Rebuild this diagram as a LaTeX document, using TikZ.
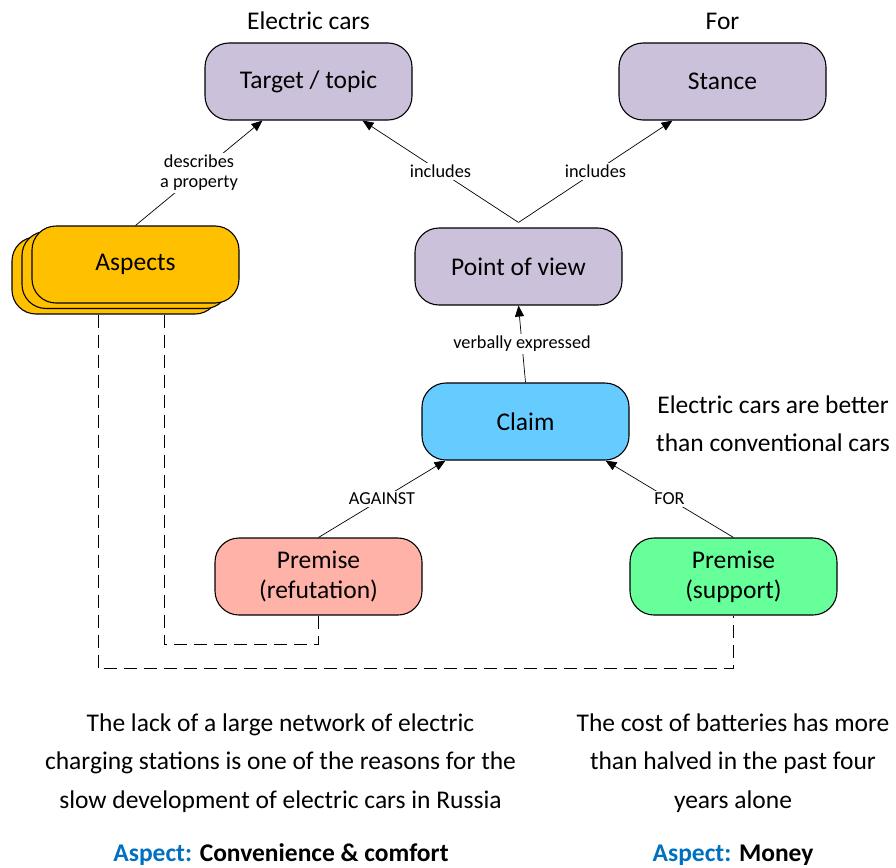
\documentclass[tikz,border=0pt]{standalone}
\usepackage{fontspec}
\setmainfont{Carlito}
\usetikzlibrary{arrows.meta,calc}

\definecolor{viewpurple}{HTML}{CCC1DA}
\definecolor{aspectgold}{HTML}{FFC000}
\definecolor{claimblue}{HTML}{66CCFF}
\definecolor{refutered}{HTML}{FFB3A8}
\definecolor{supportgreen}{HTML}{66FF99}
\definecolor{aspectlabel}{HTML}{0070C0}

\tikzset{
    conceptbox/.style={draw=black, line width=1.1pt, rounded corners=24pt,
        minimum width=207pt, minimum height=77pt, align=center,
        font=\fontsize{25.5}{30}\selectfont},
    linklabel/.style={fill=white, inner sep=2pt, align=center,
        font=\fontsize{18.3}{20}\selectfont},
    link/.style={line width=0.7pt, -{Triangle[length=11pt,width=9pt]}},
    aspectlink/.style={line width=0.9pt, dash pattern=on 13pt off 7pt},
    example/.style={align=center, font=\fontsize{25.5}{38.5}\selectfont},
}

\begin{document}
\begin{tikzpicture}[x=1pt,y=-1pt]
    \useasboundingbox (0,0) rectangle (896,867);

    % concept boxes
    \node[conceptbox, fill=viewpurple] (target) at (308.5,81.5) {Target / topic};
    \node[conceptbox, fill=viewpurple] (stance) at (722.5,81.5) {Stance};
    \node[conceptbox, fill=viewpurple] (pov) at (518.5,266.5) {Point of view};
    \node[conceptbox, fill=claimblue] (claim) at (525.5,421.5) {Claim};
    \node[conceptbox, fill=refutered] (refute) at (318.5,576.5) {Premise\\(refutation)};
    \node[conceptbox, fill=supportgreen] (support) at (733.5,576.5) {Premise\\(support)};

    % stacked aspects
    \foreach \d in {2,1} {
        \node[conceptbox, fill=aspectgold] (aspects\d) at (135.5-10*\d,264.5+5.5*\d) {};
    }
    \node[conceptbox, fill=aspectgold] (aspects) at (135.5,264.5) {Aspects};

    % example texts
    \node[font=\fontsize{25.5}{30}\selectfont] (topicname) at (308.5,21) {Electric cars};
    \node[font=\fontsize{25.5}{30}\selectfont] (stancename) at (722.5,21) {For};
    \node[example, font=\fontsize{25.5}{38}\selectfont] (claimtext) at (773,424)
        {Electric cars are better\\than conventional cars};
    \node[example] (refutetext) at (280.5,763)
        {The lack of a large network of electric\\charging stations is one of the reasons for the\\slow development of electric cars in Russia};
    \node[example] (supporttext) at (733,763)
        {The cost of batteries has more\\than halved in the past four\\years alone};
    \node[font=\fontsize{25.5}{30}\selectfont\bfseries] (refuteaspect) at (281,855)
        {\textcolor{aspectlabel}{Aspect:} Convenience \& comfort};
    \node[font=\fontsize{25.5}{30}\selectfont\bfseries] (supportaspect) at (733,855)
        {\textcolor{aspectlabel}{Aspect:} Money};

    % relations
    \draw[link] (aspects.north) -- node[linklabel] {describes\\a property} ([xshift=-46pt]target.south);
    \draw[link] ([yshift=5pt]pov.north) -- node[linklabel] {includes} ([xshift=54pt]target.south);
    \draw[link] ([yshift=5pt]pov.north) -- node[linklabel] {includes} ([xshift=-50pt]stance.south);
    \draw[link] (claim.north) -- node[linklabel] {verbally expressed} (pov.south);
    \draw[link] (refute.north) -- node[linklabel] {AGAINST} ([xshift=-80pt]claim.south);
    \draw[link] (support.north) -- node[linklabel] {FOR} ([xshift=80pt]claim.south);

    % aspect references
    \draw[aspectlink] ([xshift=48.5pt]aspects2.south) |- ([yshift=-29pt]refute.south) -- (refute.south);
    \draw[aspectlink] ([xshift=-17.5pt]aspects2.south) |- ([yshift=-53pt]support.south) -- (support.south);
\end{tikzpicture}
\end{document}
